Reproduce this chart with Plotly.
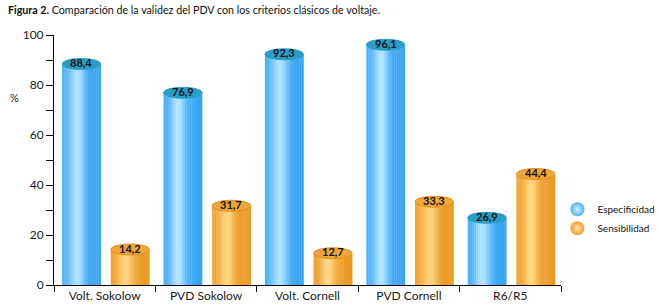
import plotly.graph_objects as go
import math

categories = ["Volt. Sokolow", "PVD Sokolow", "Volt. Cornell", "PVD Cornell", "R6/R5"]
especificidad = [88.4, 76.9, 92.3, 96.1, 26.9]
sensibilidad = [14.2, 31.7, 12.7, 33.3, 44.4]
series_names = ["Especificidad", "Sensibilidad"]
y_ticks = [0, 10, 20, 30, 40, 50, 60, 70, 80, 90, 100]
y_ticktext = ["0", "", "20", "", "40", "", "60", "", "80", "", "100"]

FONT = "Lato, sans-serif"

def hex2rgb(h):
    h = h.lstrip("#")
    return tuple(int(h[i:i + 2], 16) for i in (0, 2, 4))

def profile(t):
    # brightness profile across cylinder width (0 left, 1 right)
    return math.exp(-((t - 0.38) / 0.2) ** 2)

styles = [
    dict(edge_l="#4aaff6", edge_r="#3aa4f3", hi="#b0e4ff", top="#2a9dc6", ring="#2a9dc6", off=-0.42),
    dict(edge_l="#f0a232", edge_r="#ea9a24", hi="#ffd480", top="#f0a63a", ring="#dc901c", off=0.06),
]
W = 0.38
N = 18
H = 4.4  # ellipse height in data units

fig = go.Figure()
for s_idx, vals in enumerate([especificidad, sensibilidad]):
    st = styles[s_idx]
    el = hex2rgb(st["edge_l"]); er = hex2rgb(st["edge_r"]); bh = hex2rgb(st["hi"])
    for k in range(N):
        t = (k + 0.5) / N
        basec = [el[i] + (er[i] - el[i]) * t for i in range(3)]
        p = profile(t)
        col = "rgb(%d,%d,%d)" % tuple(round(basec[i] + (bh[i] - basec[i]) * p) for i in range(3))
        fig.add_trace(go.Bar(
            x=categories, y=vals,
            width=W / N * 1.15,
            offset=st["off"] + k * W / N,
            marker=dict(color=col, line=dict(width=0)),
            showlegend=False, hoverinfo="skip",
        ))
    for i, v in enumerate(vals):
        fig.add_shape(type="circle", xref="x", yref="y",
                      x0=i + st["off"], x1=i + st["off"] + W,
                      y0=v - H / 2, y1=v + H / 2,
                      fillcolor=st["top"], line=dict(width=1, color=st["ring"]))
        fig.add_annotation(x=i + st["off"] + W / 2, y=v + 0.6, xref="x", yref="y",
                           text="<b>" + ("%.1f" % v).replace(".", ",") + "</b>",
                           showarrow=False, font=dict(family=FONT, size=11, color="#111"))

leg_cols = [("#4ab2f2", "#d6f3ff"), ("#eea136", "#ffe1a0")]
for name, (c, g) in zip(series_names, leg_cols):
    fig.add_trace(go.Scatter(x=[None], y=[None], mode="markers", name=name,
                             marker=dict(size=14, color=c, symbol="circle",
                                         gradient=dict(type="radial", color=g),
                                         line=dict(width=0))))

fig.update_layout(
    width=659, height=308,
    margin=dict(l=54, r=98, t=35, b=23, autoexpand=False),
    paper_bgcolor="white", plot_bgcolor="white",
    barmode="overlay",
    font=dict(family=FONT, size=11, color="#1a1a1a"),
    title=dict(text="<b>Figura 2.</b> Comparación de la validez del PDV con los criterios clásicos de voltaje.",
               xref="container", yref="container", x=0.012, xanchor="left",
               y=0.967, yanchor="middle", font=dict(family=FONT, size=10.7, color="#111")),
    legend=dict(x=0.993, xanchor="left", y=0.265, yanchor="middle",
                font=dict(family=FONT, size=10, color="#111"), itemwidth=30,
                bgcolor="rgba(0,0,0,0)"),
    showlegend=True,
)
fig.update_xaxes(type="category", range=[-0.5, 4.5], showline=True, linecolor="black", linewidth=1,
                 ticks="outside", tickson="boundaries", ticklen=6, tickcolor="black",
                 showgrid=False, zeroline=False, tickfont=dict(size=12), automargin=False)
fig.update_yaxes(range=[0, 100], tickvals=y_ticks, ticktext=y_ticktext, showline=True,
                 linecolor="black", linewidth=1, ticks="outside", ticklen=7, tickcolor="black",
                 showgrid=False, zeroline=False, tickfont=dict(size=12), automargin=False)
fig.add_annotation(text="%", xref="paper", yref="paper", x=(14 - 54) / 507, y=(285 - 97) / 250,
                   showarrow=False, font=dict(size=11), xanchor="center", yanchor="middle")

fig.write_html("out.html", config={"displayModeBar": False},
               post_script="document.body.style.margin='0';document.body.style.padding='0';")
